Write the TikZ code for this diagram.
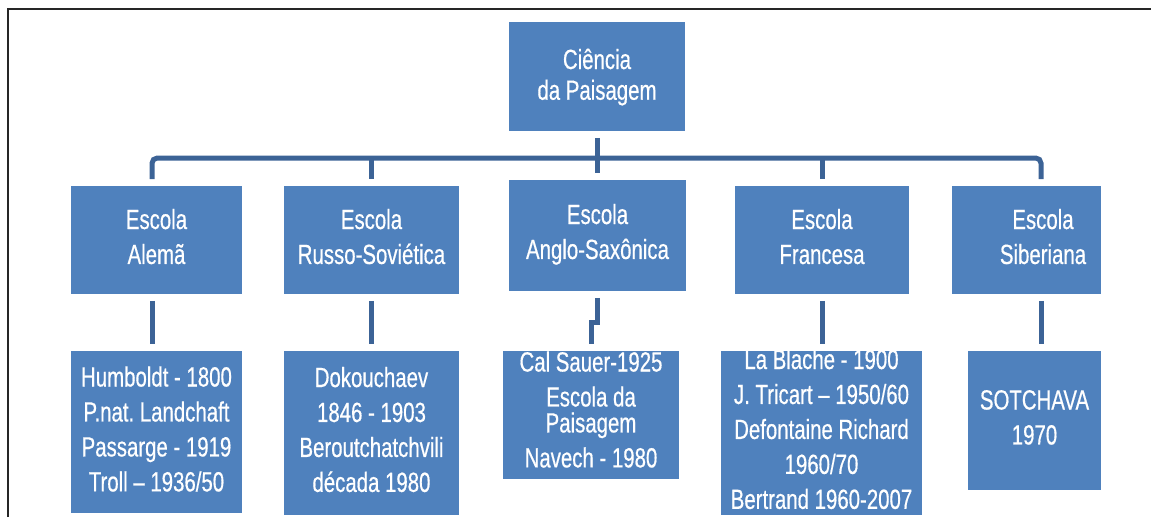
\documentclass[tikz,border=0pt]{standalone}
\usepackage{fontspec}
\setmainfont[FakeStretch=0.735, FakeBold=0.5]{Liberation Sans}
\definecolor{azul}{RGB}{79,129,189}
\definecolor{azulescuro}{RGB}{60,99,150}
\newcommand{\rotulo}[2]{\raisebox{#1}{\smash{\begin{tabular}[t]{@{}c@{}}#2\end{tabular}}}}

\begin{document}
\begin{tikzpicture}[x=0.02cm, y=-0.02cm,
		caixa/.style={fill=azul, text=white, inner sep=0pt, font=\fontsize{15.8}{19.9}\selectfont},
		liga/.style={draw=azulescuro, line width=0.1cm, shorten <=0.13cm, shorten >=0.13cm}]
	\useasboundingbox (0,0) rectangle (1151,517);
	\draw[line width=0.04cm, black!85] (8,517) -- (8,9) -- (1151,9);
	\node[caixa, minimum width=3.52cm, minimum height=2.18cm, font=\fontsize{15.8}{17.5}\selectfont] (raiz) at (597,76.5) {\rotulo{0.3cm}{Ciência\\da Paisagem}};
	\node[caixa, minimum width=3.42cm, minimum height=2.16cm] (alema) at (156.5,240) {\rotulo{0.44cm}{Escola\\Alemã}};
	\node[caixa, minimum width=3.5cm, minimum height=2.16cm] (russa) at (371.5,240) {\rotulo{0.44cm}{Escola\\Russo-Soviética}};
	\node[caixa, minimum width=3.54cm, minimum height=2.22cm] (anglo) at (597.5,235.5) {\rotulo{0.46cm}{Escola\\Anglo-Saxônica}};
	\node[caixa, minimum width=3.48cm, minimum height=2.16cm] (francesa) at (822,240) {\rotulo{0.44cm}{Escola\\Francesa}};
	\node[caixa, minimum width=2.98cm, minimum height=2.16cm] (siberiana) at (1026.5,240) {\hspace*{0.66cm}\rotulo{0.44cm}{Escola\\Siberiana}};
	\node[caixa, minimum width=3.42cm, minimum height=3.24cm] (humboldt) at (156.5,432) {\rotulo{1.82cm}{Humboldt - 1800\\P.nat.\ Landchaft\\Passarge - 1919\\Troll – 1936/50}};
	\node[caixa, minimum width=3.5cm, minimum height=3.28cm] (doko) at (371.5,433) {\rotulo{1.84cm}{Dokouchaev\\1846 - 1903\\Beroutchatchvili\\década 1980}};
	\node[caixa, minimum width=3.52cm, minimum height=2.56cm] (sauer) at (591,415) {\rotulo{1.74cm}{Cal Sauer-1925\\Escola da\\\noalign{\vskip -0.18cm}Paisagem\\Navech - 1980}};
	\node[caixa, minimum width=4.02cm, minimum height=3.28cm] (blache) at (821.5,433) {\rotulo{2.56cm}{La Blache - 1900\\J. Tricart – 1950/60\\Defontaine Richard\\1960/70\\Bertrand 1960-2007}};
	\node[caixa, minimum width=2.66cm, minimum height=2.78cm] (sotchava) at (1034.5,420.5) {\rotulo{0.44cm}{SOTCHAVA\\1970}};
	\coordinate (barra) at (597,158);
	\draw[liga, rounded corners=3pt] ([xshift=-0.09cm]alema.north) |- (barra) -| ([xshift=0.29cm]siberiana.north);
	\draw[liga] (raiz.south) -- (raiz.south |- anglo.north);
	\foreach \e in {russa, francesa} {
		\draw[liga, shorten <=0pt] (barra -| \e.north) -- (\e.north);
	}
	\draw[liga] ([xshift=-0.09cm]alema.south) -- ([xshift=-0.09cm]alema.south |- humboldt.north);
	\foreach \e/\a in {russa/doko, francesa/blache} {
		\draw[liga] (\e.south) -- (\e.south |- \a.north);
	}
	\draw[liga] (anglo.south) -- ++(0,31) -| (sauer.north);
	\draw[liga] ([xshift=0.29cm]siberiana.south) -- ([xshift=0.29cm]siberiana.south |- sotchava.north);
\end{tikzpicture}
\end{document}
